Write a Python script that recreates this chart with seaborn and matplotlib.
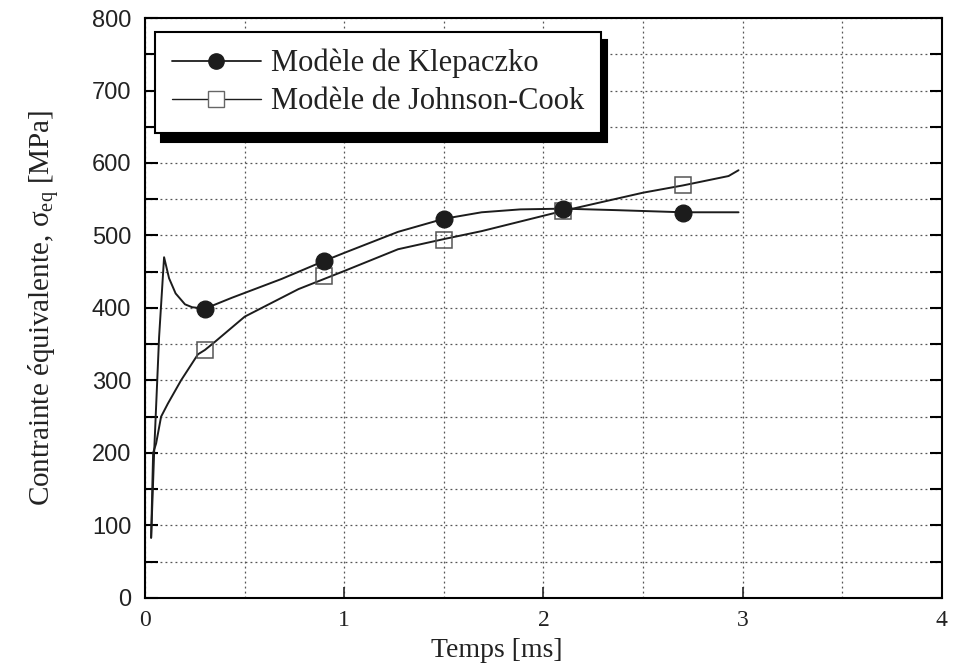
import seaborn as sns
import matplotlib.pyplot as plt
from matplotlib.lines import Line2D
from matplotlib.ticker import MultipleLocator

# values
temps_klep = [0.03, 0.045, 0.07, 0.095, 0.12, 0.153, 0.20, 0.236, 0.30, 0.435, 0.685,
              0.90, 1.00, 1.27, 1.50, 1.69, 1.885, 2.10, 2.36, 2.70, 2.98]
sigma_klep = [83, 200, 360, 470, 441, 420, 405, 401, 399, 414, 440,
              465, 476, 505, 523, 532, 536, 537, 535, 532, 532]

temps_jc = [0.03, 0.04, 0.055, 0.08, 0.114, 0.18, 0.265, 0.30, 0.345, 0.50, 0.77,
            1.00, 1.27, 1.50, 1.69, 2.10, 2.50, 2.70, 2.93, 2.98]
sigma_jc = [83, 200, 213, 250, 268, 300, 336, 342, 352, 388, 426,
            451, 481, 495, 506, 534, 559, 569, 582, 590]

temps_marq = [0.3, 0.9, 1.5, 2.1, 2.7]
marq_klep = [399, 465, 523, 536, 531]
marq_jc = [342, 444, 494, 534, 569]

labels = ["Modèle de Klepaczko", "Modèle de Johnson-Cook"]

sns.set_theme(style="white")
plt.rcParams["font.family"] = ["Liberation Serif", "DejaVu Serif"]
plt.rcParams["mathtext.fontset"] = "custom"
plt.rcParams["mathtext.rm"] = "Liberation Serif"
plt.rcParams["mathtext.it"] = "Liberation Serif"

fig, ax = plt.subplots(figsize=(9.55, 6.68), dpi=100)
fig.subplots_adjust(left=0.152, right=0.986, bottom=0.105, top=0.973)

ink = "#1c1c1c"
sns.lineplot(x=temps_klep, y=sigma_klep, sort=False, estimator=None,
             color=ink, lw=1.4, ax=ax)
sns.lineplot(x=temps_jc, y=sigma_jc, sort=False, estimator=None,
             color=ink, lw=1.4, ax=ax)
ax.plot(temps_marq, marq_jc, ls="none", marker="s", ms=12, mfc="none",
        mec="#555555", mew=1.1, zorder=3)
ax.plot(temps_marq, marq_klep, ls="none", marker="o", ms=12, mfc=ink,
        mec=ink, zorder=4)

ax.set_xlim(0, 4)
ax.set_ylim(0, 800)
ax.xaxis.set_major_locator(MultipleLocator(1))
ax.xaxis.set_minor_locator(MultipleLocator(0.5))
ax.yaxis.set_major_locator(MultipleLocator(100))
ax.yaxis.set_minor_locator(MultipleLocator(50))
ax.grid(which="both", ls=(0, (1.5, 2.5)), color="#555555", lw=0.9)

for s in ax.spines.values():
    s.set_visible(True)
    s.set_color("black")
    s.set_linewidth(1.5)

ax.tick_params(axis="y", which="both", direction="in", left=True, right=True,
               length=9, width=1.5, color="black")
ax.tick_params(axis="y", which="major", labelsize=17, pad=10,
               labelfontfamily="Liberation Sans", labelcolor="#222222")
ax.tick_params(axis="x", which="major", direction="in", bottom=True,
               length=8, width=1.2, labelsize=17, pad=9, labelcolor="#222222")
ax.tick_params(axis="x", which="minor", length=0)

ax.set_xlabel("Temps [ms]", fontsize=20, color="#222222")
ax.xaxis.set_label_coords(0.4417, -0.07)
ax.set_ylabel("Contrainte équivalente, σ$_{\\mathrm{eq}}$ [MPa]", fontsize=21,
              color="#222222")
ax.yaxis.set_label_coords(-0.105, 0.5)

handles = [
    Line2D([], [], color=ink, lw=1.3, marker="o", ms=11, mfc=ink, mec=ink),
    Line2D([], [], color=ink, lw=1.0, marker="s", ms=11, mfc="white", mec="#666666"),
]
leg = ax.legend(handles, labels, loc="upper left", bbox_to_anchor=(0.0125, 0.976),
                borderaxespad=0, fontsize=22, handlelength=2.9, handletextpad=0.35,
                borderpad=0.55, labelspacing=0.3, numpoints=1, fancybox=False,
                framealpha=1, edgecolor="black",
                shadow={"ox": 4, "oy": -6, "color": "black", "alpha": 1})
leg.get_frame().set_linewidth(1.5)
for t in leg.get_texts():
    t.set_color("#222222")

fig.savefig("out.png", dpi=100)
